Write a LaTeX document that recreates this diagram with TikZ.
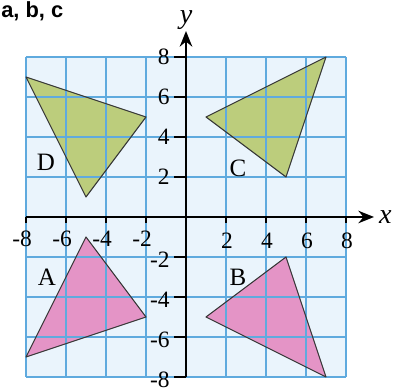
\documentclass[tikz,border=0pt]{standalone}
\usepackage{fontspec}
\setmainfont{Liberation Serif}
\setsansfont{Liberation Sans}
\usepackage{tikz}
\usetikzlibrary{arrows.meta,positioning}
\usepackage{xcolor}
\definecolor{gridblue}{RGB}{95,170,222}
\definecolor{paleblue}{RGB}{234,244,252}
\definecolor{shapegreen}{RGB}{188,205,124}
\definecolor{shapepink}{RGB}{228,148,198}
\definecolor{edgegray}{RGB}{55,55,55}

\begin{document}
\begin{tikzpicture}[x=0.45cm, y=0.45cm,
    tri/.style={draw=edgegray, line width=0.7pt, line join=round},
    gridline/.style={draw=gridblue, line width=1pt},
    axis/.style={-{Stealth[length=10pt,width=8pt]}, line width=1.4pt, black},
    tick/.style={line width=0.9pt, black},
    ticklab/.style={font=\fontsize{15}{18}\selectfont, inner sep=0pt},
    shapelab/.style={font=\fontsize{16}{19}\selectfont, inner sep=0pt}
]
\useasboundingbox (-9.3,-8.75) rectangle (10.6,10.85);

% grid paper
\fill[paleblue] (-8,-8) rectangle (8,8);

% triangles
\fill[shapegreen] (-8,7) -- (-2,5) -- (-5,1) -- cycle;
\fill[shapegreen] (1,5) -- (7,8) -- (5,2) -- cycle;
\fill[shapepink] (-5,-1) -- (-2,-5) -- (-8,-7) -- cycle;
\fill[shapepink] (5,-2) -- (1,-5) -- (7,-8) -- cycle;

\foreach \k in {-8,-6,...,8} {
    \draw[gridline] (\k,-8) -- (\k,8);
    \draw[gridline] (-8,\k) -- (8,\k);
}

\draw[tri] (-8,7) -- (-2,5) -- (-5,1) -- cycle;
\draw[tri] (1,5) -- (7,8) -- (5,2) -- cycle;
\draw[tri] (-5,-1) -- (-2,-5) -- (-8,-7) -- cycle;
\draw[tri] (5,-2) -- (1,-5) -- (7,-8) -- cycle;

% axes
\coordinate (xstart) at (-8,0);
\coordinate (xend) at (9.4,0);
\coordinate (ystart) at (0,-8);
\coordinate (yend) at (0,9.3);
\draw[axis] (xstart) -- (xend);
\draw[axis] (ystart) -- (yend);
\node[font=\fontsize{18}{20}\selectfont\itshape, right=2pt of xend, inner sep=1pt] (xlab) {x};
\node[font=\fontsize{18}{20}\selectfont\itshape, above=0pt of yend, inner sep=1pt] (ylab) {y};

% ticks and numbers
\foreach \k in {2,4,6,8} {
    \draw[tick] (\k,0) -- (\k,-0.3);
    \draw[tick] (-\k,0) -- (-\k,-0.3);
    \draw[tick] (0,\k) -- (-0.6,\k);
    \draw[tick] (0,-\k) -- (-0.6,-\k);
    \node[ticklab] (xp\k) at (\k+0.05,-1.2) {\k};
    \node[ticklab] (xn\k) at (-\k,-1.1) {\llap{-}\k};
    \node[ticklab, anchor=east] (yp\k) at (-0.8,\k) {\k};
    \node[ticklab, anchor=east] (yn\k) at (-0.8,-\k-0.15) {-\k};
}

% labels
\node[shapelab] (labD) at (-7,2.75) {D};
\node[shapelab] (labC) at (2.6,2.45) {C};
\node[shapelab] (labA) at (-6.95,-3) {A};
\node[shapelab] (labB) at (2.6,-3) {B};

\node[font=\fontsize{14}{16}\selectfont\sffamily\bfseries, anchor=north west, inner sep=0pt] (title) at (-9.25,10.8) {a, b, c};

\end{tikzpicture}
\end{document}
